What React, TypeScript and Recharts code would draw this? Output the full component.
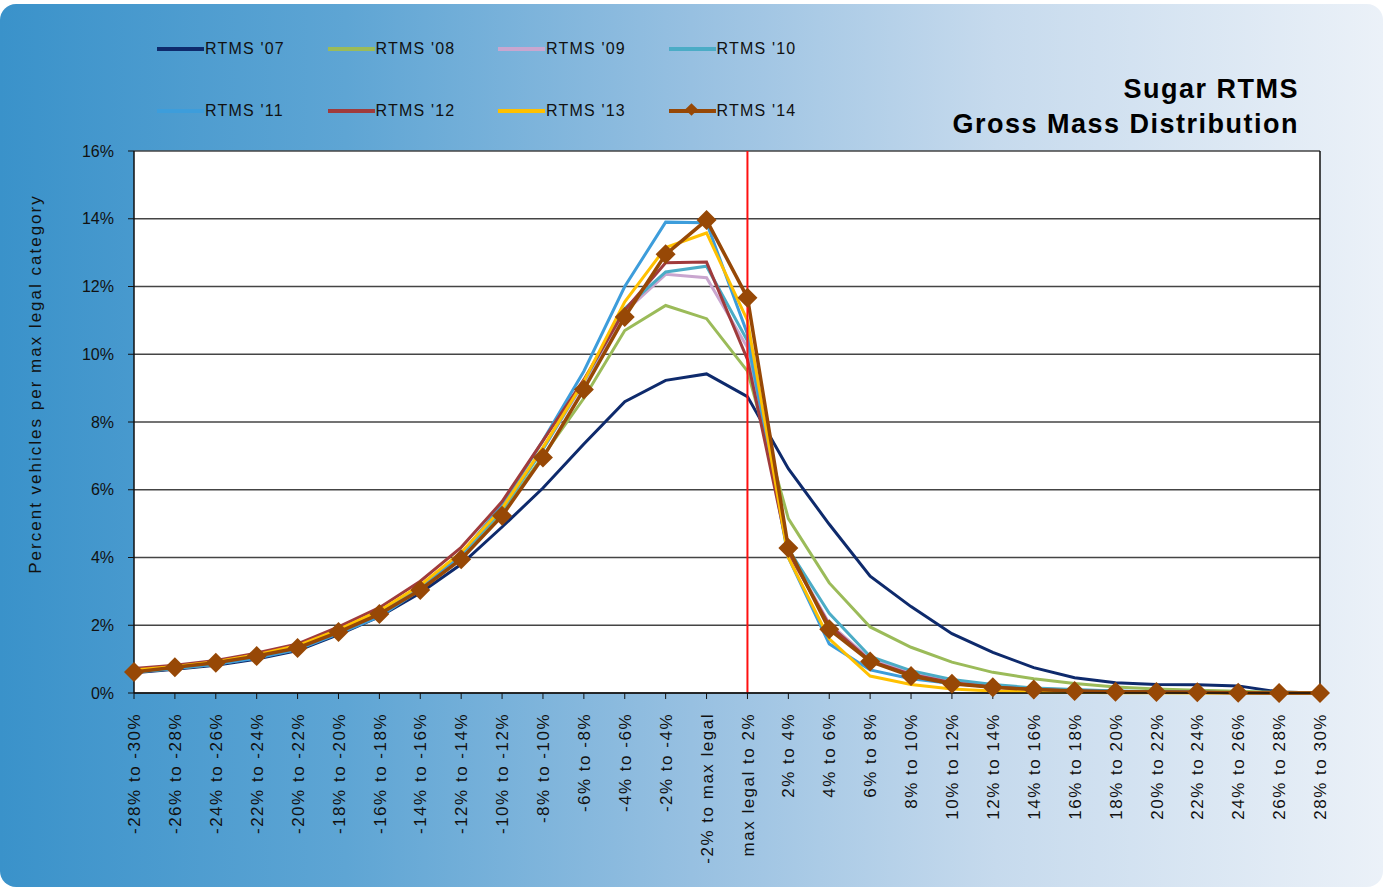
import { LineChart, Line, XAxis, YAxis, CartesianGrid, ReferenceLine } from 'recharts';

const categories = [
  '-28% to -30%', '-26% to -28%', '-24% to -26%', '-22% to -24%', '-20% to -22%',
  '-18% to -20%', '-16% to -18%', '-14% to -16%', '-12% to -14%', '-10% to -12%',
  '-8% to -10%', '-6% to -8%', '-4% to -6%', '-2% to -4%', '-2% to max legal',
  'max legal to 2%', '2% to 4%', '4% to 6%', '6% to 8%', '8% to 10%',
  '10% to 12%', '12% to 14%', '14% to 16%', '16% to 18%', '18% to 20%',
  '20% to 22%', '22% to 24%', '24% to 26%', '26% to 28%', '28% to 30%',
];

const rtms07 = [0.60, 0.70, 0.82, 1.00, 1.25, 1.72, 2.25, 2.95, 3.80, 4.90, 6.05, 7.35, 8.60, 9.23, 9.42, 8.75, 6.62, 4.98, 3.45, 2.55, 1.75, 1.20, 0.75, 0.45, 0.30, 0.25, 0.24, 0.21, 0.03, 0.0];
const rtms08 = [0.62, 0.72, 0.85, 1.05, 1.30, 1.78, 2.32, 3.05, 4.00, 5.30, 7.00, 8.70, 10.70, 11.44, 11.05, 9.50, 5.15, 3.25, 1.95, 1.35, 0.91, 0.61, 0.42, 0.28, 0.18, 0.12, 0.08, 0.05, 0.02, 0.01];
const rtms09 = [0.68, 0.78, 0.92, 1.12, 1.38, 1.85, 2.40, 3.15, 4.10, 5.45, 7.20, 9.15, 11.25, 12.36, 12.26, 10.20, 4.20, 2.05, 1.00, 0.62, 0.36, 0.22, 0.13, 0.08, 0.05, 0.03, 0.02, 0.01, 0.01, 0.0];
const rtms10 = [0.66, 0.76, 0.90, 1.10, 1.35, 1.82, 2.38, 3.12, 4.08, 5.40, 7.20, 9.20, 11.35, 12.43, 12.60, 10.40, 4.25, 2.35, 1.08, 0.66, 0.40, 0.25, 0.15, 0.10, 0.06, 0.04, 0.02, 0.01, 0.01, 0.0];
const rtms11 = [0.62, 0.72, 0.85, 1.03, 1.28, 1.75, 2.25, 3.05, 4.10, 5.55, 7.45, 9.50, 12.00, 13.90, 13.88, 10.60, 4.00, 1.45, 0.68, 0.42, 0.28, 0.18, 0.11, 0.07, 0.05, 0.03, 0.02, 0.01, 0.0, 0.0];
const rtms12 = [0.72, 0.82, 0.96, 1.18, 1.45, 1.95, 2.52, 3.30, 4.30, 5.65, 7.45, 9.25, 11.30, 12.70, 12.72, 9.85, 4.15, 2.00, 0.95, 0.55, 0.30, 0.18, 0.10, 0.06, 0.04, 0.03, 0.02, 0.01, 0.0, 0.0];
const rtms13 = [0.68, 0.78, 0.92, 1.13, 1.40, 1.87, 2.43, 3.18, 4.15, 5.45, 7.25, 9.20, 11.55, 13.15, 13.58, 11.00, 4.00, 1.60, 0.50, 0.25, 0.12, 0.06, 0.03, 0.02, 0.01, 0.01, 0.0, 0.0, 0.0, 0.0];
const rtms14 = [0.62, 0.76, 0.89, 1.09, 1.33, 1.80, 2.33, 3.04, 3.95, 5.23, 6.95, 8.96, 11.10, 12.95, 13.96, 11.67, 4.28, 1.88, 0.93, 0.50, 0.27, 0.17, 0.10, 0.06, 0.04, 0.03, 0.02, 0.01, 0.0, 0.0];

const yTicks = [0, 2, 4, 6, 8, 10, 12, 14, 16];

const series = [
  { key: 'rtms07', name: "RTMS '07", color: '#0e2a6c', values: rtms07 },
  { key: 'rtms08', name: "RTMS '08", color: '#9bbb59', values: rtms08 },
  { key: 'rtms09', name: "RTMS '09", color: '#c9a6cf', values: rtms09 },
  { key: 'rtms10', name: "RTMS '10", color: '#4bacc6', values: rtms10 },
  { key: 'rtms11', name: "RTMS '11", color: '#3d9ddb', values: rtms11 },
  { key: 'rtms12', name: "RTMS '12", color: '#a03b3c', values: rtms12 },
  { key: 'rtms13', name: "RTMS '13", color: '#ffc000', values: rtms13 },
  { key: 'rtms14', name: "RTMS '14", color: '#974806', values: rtms14 },
];

const data = categories.map((cat, i) => {
  const row: any = { cat };
  series.forEach((s) => { row[s.key] = s.values[i]; });
  return row;
});

const FONT = '"Liberation Sans", Arial, sans-serif';

function XTick(props: any) {
  const { x, y, payload } = props;
  return (
    <g transform={`translate(${x},${y + 12})`}>
      <text transform="rotate(-90)" textAnchor="end" dy="0.36em" fontSize={17} letterSpacing={1.5} fill="#111" fontFamily={FONT}>
        {payload.value}
      </text>
    </g>
  );
}

function Diamond(props: any) {
  const { cx, cy, index } = props;
  if (cx == null || cy == null) return <g key={index} />;
  const r = 10;
  return (
    <polygon key={index} points={`${cx},${cy - r} ${cx + r},${cy} ${cx},${cy + r} ${cx - r},${cy}`} fill="#974806" />
  );
}

export default function App() {
  return (
    <div style={{ position: 'absolute', left: 0, top: 0, width: 1383, height: 887, background: '#fff', fontFamily: FONT }}>
      <div style={{ position: 'absolute', left: 0, top: 4, width: 1383, height: 883, borderRadius: 16, background: 'linear-gradient(to right, #3a92ca 0%, #5ea5d4 25%, #97c0e1 50%, #c6daed 72%, #ebf1f8 100%)' }} />
      <LineChart width={1383} height={887} data={data} margin={{ top: 151, right: 63, bottom: 14, left: 0 }} style={{ position: 'absolute', left: 0, top: 0 }}>
        <CartesianGrid vertical={false} fill="#ffffff" stroke="#444" strokeWidth={1.6} />
        <XAxis dataKey="cat" scale="point" padding={{ left: 0, right: 0 }} interval={0} height={180} tick={<XTick />} tickLine={{ stroke: '#111' }} axisLine={{ stroke: '#111', strokeWidth: 1.5 }} tickSize={6} />
        <YAxis domain={[0, 16]} ticks={yTicks} width={134} tickFormatter={(v) => `${v}%`} tick={{ fontSize: 16, fill: '#111', fontFamily: FONT }} tickMargin={14} tickLine={{ stroke: '#111' }} axisLine={{ stroke: '#111', strokeWidth: 1.5 }} interval={0} />
        <ReferenceLine x="28% to 30%" stroke="#111" strokeWidth={1.5} />
        {series.map((s) => (
          <Line
            key={s.key}
            dataKey={s.key}
            name={s.name}
            type="linear"
            stroke={s.color}
            strokeWidth={s.key === 'rtms14' ? 3.5 : 3}
            dot={s.key === 'rtms14' ? <Diamond /> : false}
            activeDot={false}
            isAnimationActive={false}
          />
        ))}
        <ReferenceLine x="max legal to 2%" stroke="#ff1010" strokeWidth={2} />
      </LineChart>

      {/* legend */}
      {series.map((s, i) => {
        const col = i % 4;
        const row = Math.floor(i / 4);
        const left = 157 + col * 170.5;
        const top = row === 0 ? 49 : 111;
        return (
          <div key={s.key} style={{ position: 'absolute', left, top: top - 10, height: 20, display: 'flex', alignItems: 'center' }}>
            <div style={{ position: 'relative', width: 47, height: 4, background: s.color }}>
              {s.key === 'rtms14' && (
                <div style={{ position: 'absolute', left: 18, top: -4, width: 9, height: 9, background: s.color, transform: 'rotate(45deg)' }} />
              )}
            </div>
            <span style={{ fontSize: 16, letterSpacing: 1.2, color: '#111', whiteSpace: 'nowrap', marginLeft: 1 }}>{s.name}</span>
          </div>
        );
      })}

      {/* title */}
      <div style={{ position: 'absolute', right: 1383 - 1299, top: 72, textAlign: 'right', fontWeight: 700, fontSize: 27, letterSpacing: 1.5, lineHeight: '35px', color: '#000' }}>
        <div>Sugar RTMS</div>
        <div>Gross Mass Distribution</div>
      </div>

      {/* y axis title */}
      <div style={{ position: 'absolute', left: 36, top: 384, transform: 'translate(-50%, -50%) rotate(-90deg)', whiteSpace: 'nowrap', fontSize: 17, letterSpacing: 2, color: '#111' }}>
        Percent vehicles per max legal category
      </div>
    </div>
  );
}
